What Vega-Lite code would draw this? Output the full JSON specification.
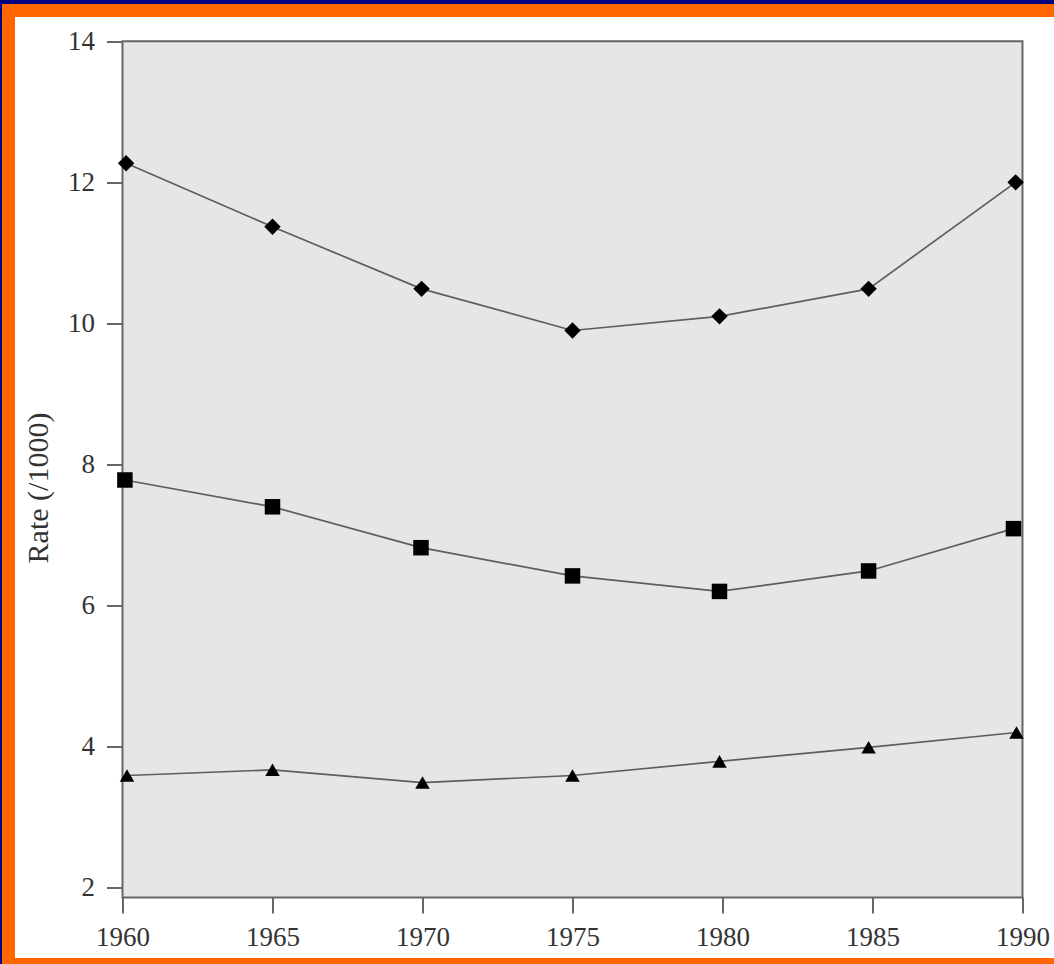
{
  "$schema": "https://vega.github.io/schema/vega-lite/v6.json",
  "width": 1052,
  "height": 954,
  "autosize": {"type": "none"},
  "padding": {"left": 8.5, "top": 10.5, "right": 0, "bottom": 0},
  "background": "#000080",
  "config": {
    "view": {"fill": "white", "stroke": "#FF6600", "strokeWidth": 13},
    "font": "Liberation Serif"
  },
  "datasets": {
    "series": [
      {"series": "A", "year": 1960.12, "rate": 12.27},
      {"series": "A", "year": 1965.0, "rate": 11.37},
      {"series": "A", "year": 1969.97, "rate": 10.49},
      {"series": "A", "year": 1975.0, "rate": 9.9},
      {"series": "A", "year": 1979.9, "rate": 10.1},
      {"series": "A", "year": 1984.87, "rate": 10.49},
      {"series": "A", "year": 1989.77, "rate": 12.0},
      {"series": "B", "year": 1960.08, "rate": 7.78},
      {"series": "B", "year": 1965.0, "rate": 7.4},
      {"series": "B", "year": 1969.95, "rate": 6.82},
      {"series": "B", "year": 1975.0, "rate": 6.42},
      {"series": "B", "year": 1979.9, "rate": 6.2},
      {"series": "B", "year": 1984.87, "rate": 6.49},
      {"series": "B", "year": 1989.7, "rate": 7.09},
      {"series": "C", "year": 1960.15, "rate": 3.59},
      {"series": "C", "year": 1965.0, "rate": 3.67},
      {"series": "C", "year": 1970.0, "rate": 3.49},
      {"series": "C", "year": 1975.0, "rate": 3.59},
      {"series": "C", "year": 1979.9, "rate": 3.79},
      {"series": "C", "year": 1984.87, "rate": 3.99},
      {"series": "C", "year": 1989.8, "rate": 4.2}
    ],
    "box": [
      {"year": 1960, "year2": 1990, "rate": 1.86, "rate2": 14}
    ]
  },
  "encoding": {
    "x": {
      "field": "year",
      "type": "quantitative",
      "scale": {"domain": [1956.2, 1991.267], "nice": false, "zero": false},
      "axis": {
        "orient": "bottom",
        "offset": -67.5,
        "values": [1960, 1965, 1970, 1975, 1980, 1985, 1990],
        "format": "d",
        "domain": false,
        "grid": false,
        "tickSize": 16,
        "tickColor": "#666666",
        "tickWidth": 2,
        "labelFont": "Liberation Serif",
        "labelFontSize": 27,
        "labelColor": "#333333",
        "labelPadding": 11,
        "labelFlush": false,
        "labelOverlap": false,
        "title": null
      }
    },
    "y": {
      "field": "rate",
      "type": "quantitative",
      "scale": {"domain": [0.91, 14.437], "nice": false, "zero": false},
      "axis": {
        "orient": "left",
        "offset": -114,
        "values": [2, 4, 6, 8, 10, 12, 14],
        "domain": false,
        "grid": false,
        "tickSize": 16,
        "tickColor": "#666666",
        "tickWidth": 2,
        "labelFont": "Liberation Serif",
        "labelFontSize": 27,
        "labelColor": "#333333",
        "labelPadding": 12,
        "labelFlush": false,
        "labelOverlap": false,
        "title": "Rate (/1000)",
        "titleFont": "Liberation Serif",
        "titleFontSize": 30,
        "titleFontWeight": "normal",
        "titleColor": "#333333",
        "titlePadding": 14
      }
    }
  },
  "layer": [
    {
      "data": {"name": "box"},
      "mark": {"type": "rect", "fill": "#E6E6E6", "stroke": "#666666", "strokeWidth": 2},
      "encoding": {
        "x2": {"field": "year2"},
        "y2": {"field": "rate2"}
      }
    },
    {
      "data": {"name": "series"},
      "mark": {"type": "line", "color": "#5E5E5E", "strokeWidth": 1.7},
      "encoding": {
        "detail": {"field": "series", "type": "nominal"}
      }
    },
    {
      "data": {"name": "series"},
      "mark": {"type": "point", "filled": true, "color": "black", "opacity": 1},
      "encoding": {
        "shape": {
          "field": "series",
          "type": "nominal",
          "scale": {"domain": ["A", "B", "C"], "range": ["diamond", "square", "triangle-up"]},
          "legend": null
        },
        "size": {
          "field": "series",
          "type": "nominal",
          "scale": {"domain": ["A", "B", "C"], "range": [270, 210, 320]},
          "legend": null
        }
      }
    }
  ]
}
